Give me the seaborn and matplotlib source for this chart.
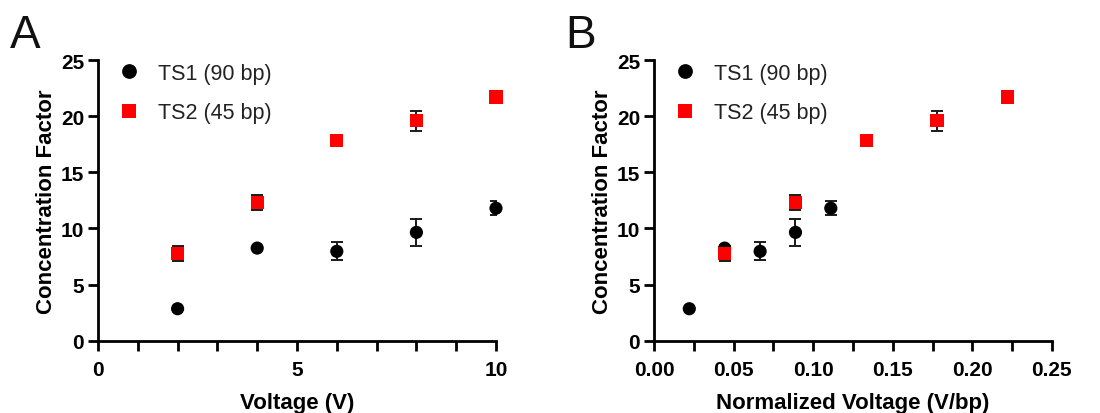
import matplotlib
matplotlib.use("Agg")
import matplotlib.pyplot as plt
import seaborn as sns
import pandas as pd
from matplotlib.ticker import MultipleLocator, FormatStrFormatter

# ---- data ----
series_names = ["TS1 (90 bp)", "TS2 (45 bp)"]
voltage_ts1 = [2, 4, 6, 8, 10]
voltage_ts2 = [2, 4, 6, 8, 10]
norm_voltage_ts1 = [0.0222, 0.0444, 0.0667, 0.0889, 0.1111]
norm_voltage_ts2 = [0.0444, 0.0889, 0.1333, 0.1778, 0.2222]
cf_ts1 = [2.85, 8.25, 7.96, 9.65, 11.8]
cf_ts2 = [7.75, 12.3, 17.85, 19.6, 21.7]
err_ts1 = [0.0, 0.0, 0.8, 1.2, 0.6]
err_ts2 = [0.65, 0.7, 0.0, 0.9, 0.0]

sns.set_style("ticks")
plt.rcParams['font.family'] = ['Liberation Sans', 'DejaVu Sans']

df = pd.DataFrame({
    "series": [series_names[0]] * 5 + [series_names[1]] * 5,
    "voltage": voltage_ts1 + voltage_ts2,
    "norm": norm_voltage_ts1 + norm_voltage_ts2,
    "cf": cf_ts1 + cf_ts2,
    "err": err_ts1 + err_ts2,
})

palette = {series_names[0]: "black", series_names[1]: "#ff0000"}
markers = {series_names[0]: "o", series_names[1]: "s"}

fig = plt.figure(figsize=(11, 4.14), dpi=100)
axA = fig.add_axes([0.0891, 0.1746, 0.3618, 0.678])
axB = fig.add_axes([0.5945, 0.1746, 0.3618, 0.678])

def draw(ax, xcol, xmax, major, minor, fmt, xlabel):
    sub_err = df[df.err > 0]
    ax.errorbar(sub_err[xcol], sub_err["cf"], yerr=sub_err["err"], fmt="none",
                ecolor="#1a1a1a", elinewidth=1.4, capsize=4.5, capthick=1.4, zorder=1)
    sns.scatterplot(data=df, x=xcol, y="cf", hue="series", style="series",
                    palette=palette, markers=markers, s=90, edgecolor="none",
                    linewidth=0, ax=ax, zorder=2, legend=True)
    ax.set_xlim(0, xmax)
    ax.set_ylim(0, 25)
    ax.xaxis.set_major_locator(MultipleLocator(major))
    ax.xaxis.set_minor_locator(MultipleLocator(minor))
    ax.xaxis.set_major_formatter(FormatStrFormatter(fmt))
    ax.yaxis.set_major_locator(MultipleLocator(5))
    for s in ["top", "right"]:
        ax.spines[s].set_visible(False)
    for s in ["left", "bottom"]:
        ax.spines[s].set_linewidth(2)
        ax.spines[s].set_color("black")
    ax.tick_params(axis="both", which="both", width=2, length=7, color="black")
    ax.tick_params(axis="x", which="major", pad=7)
    ax.tick_params(axis="y", which="major", pad=3)
    for lbl in ax.get_xticklabels() + ax.get_yticklabels():
        lbl.set_fontsize(15)
        lbl.set_fontweight("bold")
        lbl.set_color("black")
    ax.set_xlabel(xlabel, fontsize=16, fontweight="bold", labelpad=9, color="black")
    ax.set_ylabel("Concentration Factor", fontsize=16, fontweight="bold", labelpad=3, color="black")
    leg = ax.legend(loc="upper left", frameon=False, fontsize=15.5, title=None,
                    markerscale=1.12, handletextpad=0.6, borderaxespad=0.0,
                    handlelength=1.5, bbox_to_anchor=(0.015, 1.02), labelspacing=0.85)
    for t in leg.get_texts():
        t.set_color("#222222")
    for c in ax.collections:
        c.set_clip_on(False)

draw(axA, "voltage", 10, 5, 1, "%d", "Voltage (V)")
draw(axB, "norm", 0.25, 0.05, 0.025, "%.2f", "Normalized Voltage (V/bp)")

fig.text(10 / 1100, 1 - 48 / 414, "A", fontsize=33, va="baseline", ha="left", color="#111111")
fig.text(565 / 1100, 1 - 48 / 414, "B", fontsize=33, va="baseline", ha="left", color="#111111")

fig.savefig("out.png", dpi=100)
